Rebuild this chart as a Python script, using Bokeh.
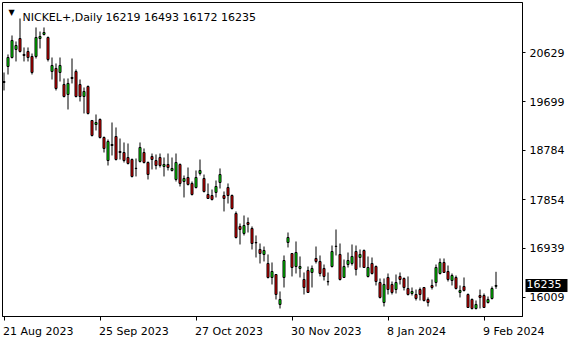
from bokeh.plotting import figure
from bokeh.models import Range1d, FixedTicker, Label, ColumnDataSource
from bokeh.core.properties import value
from bokeh.embed import file_html
from bokeh.resources import INLINE

# ---- data (daily OHLC, NICKEL+) ----
opens = [20082, 20365, 20535, 20686, 20893, 20592, 20648, 20554, 20554, 20893,
         20969, 20912, 20271, 20328, 20252, 20026, 19837, 20158, 20271, 20026,
         19799, 19988, 19347, 19271, 19366, 19026, 18592, 18894, 19045, 18762,
         18743, 18649, 18611, 18445, 18574, 18743, 18555, 18668, 18592, 18649,
         18479, 18517, 18404, 18234, 18517, 18196, 18272, 18159, 18083, 18347,
         18253, 17951, 17932, 17989, 18177, 17932, 18083, 17932, 17593, 17348,
         17216, 17423, 17310, 17046, 16914, 16820, 16650, 16386, 16442, 15877,
         16386, 17046, 16838, 16593, 16556, 16348, 16518, 16480, 16744, 16688,
         16556, 16310, 16593, 16970, 16820, 16386, 16631, 16650, 16876, 16763,
         16895, 16405, 16650, 16593, 16291, 15914, 16386, 16254, 16159, 16405,
         16367, 16178, 16084, 16065, 16159, 16197, 15971, 16235, 16291, 16461,
         16669, 16499, 16329, 16386, 16103, 16216, 16065, 15971, 15801, 16046,
         16046, 15914, 15990, 16219]
highs = [20252, 20592, 20950, 20837, 21270, 20724, 20724, 20610, 21101, 21025,
         21101, 20931, 20535, 20422, 20535, 20139, 20139, 20516, 20309, 20120,
         19969, 20007, 19347, 19460, 19385, 19045, 18988, 19309, 19215, 19007,
         18932, 18913, 18630, 18630, 18932, 18819, 18574, 18724, 18706, 18724,
         18649, 18724, 18649, 18724, 18536, 18309, 18460, 18196, 18404, 18611,
         18328, 18159, 18045, 18215, 18442, 18008, 18159, 17951, 17631, 17404,
         17555, 17517, 17348, 17178, 17027, 16970, 16820, 16669, 16450, 16122,
         16801, 17234, 16845, 17065, 16782, 16480, 16593, 16612, 16970, 16801,
         16631, 16480, 16989, 17291, 17027, 16725, 16857, 17008, 16989, 16914,
         16914, 16782, 16763, 16612, 16367, 16367, 16461, 16310, 16442, 16480,
         16386, 16405, 16197, 16159, 16197, 16203, 16009, 16348, 16631, 16744,
         16744, 16612, 16461, 16423, 16235, 16386, 16084, 15990, 15952, 16159,
         16084, 16027, 16216, 16493]
lows = [19913, 20214, 20516, 20460, 20629, 20460, 20460, 20214, 20516, 20705,
        20950, 20460, 20120, 19913, 20082, 19781, 19554, 20045, 19781, 19705,
        19479, 19460, 19045, 19158, 19007, 18743, 18498, 18687, 18592, 18611,
        18555, 18517, 18272, 18291, 18555, 18536, 18234, 18423, 18423, 18460,
        18291, 18404, 18385, 18196, 18102, 17895, 18121, 17932, 18064, 18309,
        17989, 17870, 17838, 17895, 18064, 17631, 17781, 17668, 17121, 17008,
        17178, 17234, 16914, 16763, 16650, 16688, 16367, 16254, 15971, 15801,
        16197, 16952, 16405, 16461, 16386, 16065, 16095, 16197, 16650, 16405,
        16329, 16235, 16574, 16801, 16329, 16380, 16574, 16612, 16423, 16574,
        16568, 16386, 16442, 16235, 15990, 15839, 16065, 16065, 16084, 16254,
        16141, 16046, 16046, 15952, 15952, 15933, 15839, 16159, 16216, 16442,
        16475, 16310, 16235, 16159, 16009, 16122, 15815, 15782, 15782, 15801,
        15815, 15895, 15971, 16172]
closes = [20063, 20535, 20856, 20761, 20648, 20573, 20535, 20252, 20912, 20931,
          21006, 20497, 20384, 19950, 20384, 19799, 20045, 20139, 19799, 19799,
          19894, 19479, 19064, 19309, 19026, 18819, 18951, 18875, 18611, 18743,
          18592, 18536, 18291, 18440, 18838, 18555, 18328, 18611, 18498, 18498,
          18517, 18460, 18442, 18555, 18159, 18253, 18140, 17951, 18272, 18404,
          18008, 17876, 17857, 18102, 18328, 17876, 17932, 17687, 17140, 17291,
          17366, 17385, 17027, 17040, 16838, 16895, 16386, 16499, 16065, 15971,
          16706, 17140, 16574, 16857, 16593, 16197, 16103, 16556, 16688, 16461,
          16405, 16305, 16876, 16975, 16348, 16593, 16706, 16782, 16537, 16820,
          16574, 16574, 16461, 16310, 16009, 16254, 16159, 16103, 16291, 16348,
          16197, 16065, 16122, 15990, 16065, 15952, 15914, 16197, 16574, 16669,
          16480, 16348, 16423, 16178, 16141, 16141, 15820, 15801, 15877, 16009,
          15820, 15971, 16178, 16235]

date_tick_pos = [0, 24, 48, 72, 96, 120]
date_tick_labels = ["21 Aug 2023", "25 Sep 2023", "27 Oct 2023",
                    "30 Nov 2023", "8 Jan 2024", "9 Feb 2024"]
price_ticks = [16009, 16939, 17854, 18784, 19699, 20629]
symbol_text = "NICKEL+,Daily"
last_ohlc_text = "16219 16493 16172 16235"
last_close = 16235

BULL = "#00ff00"
BEAR = "#ff0000"
FONT = "DejaVu Sans"

idx = list(range(len(opens)))
src = ColumnDataSource(dict(
    x=idx, o=opens, h=highs, l=lows, c=closes,
    top=[max(o, c) for o, c in zip(opens, closes)],
    bot=[min(o, c) for o, c in zip(opens, closes)],
    col=[BULL if c >= o else BEAR for o, c in zip(opens, closes)],
))

x_rng = Range1d(-0.375, 129.625)
y_rng = Range1d(15650, 21572)
p = figure(width=580, height=340, output_backend="svg", toolbar_location=None,
           x_range=x_rng, y_range=y_rng, y_axis_location="right",
           min_border_left=2, min_border_right=58, min_border_top=2, min_border_bottom=24)
p.background_fill_color = "white"
p.border_fill_color = "white"
p.outline_line_color = "black"
p.outline_line_width = 1
p.xgrid.visible = False
p.ygrid.visible = False

p.segment(x0="x", y0="l", x1="x", y1="h", source=src, line_color="black", line_width=1)
p.vbar(x="x", top="top", bottom="bot", width=0.5, source=src,
       fill_color="col", line_color="black", line_width=1)

# y axis (right)
ya = p.yaxis[0]
ya.ticker = FixedTicker(ticks=price_ticks)
ya.minor_tick_line_color = None
ya.major_tick_in = 0
ya.major_tick_out = 3
ya.major_label_standoff = 4
ya.axis_line_color = "black"
ya.major_tick_line_color = "black"
ya.major_label_text_font = FONT
ya.major_label_text_font_size = "11px"
ya.major_label_text_color = "black"

# x axis (tick marks; labels drawn left-aligned below as overlay text)
xa = p.xaxis[0]
xa.ticker = FixedTicker(ticks=date_tick_pos)
xa.major_label_overrides = {t: "" for t in date_tick_pos}
xa.minor_tick_line_color = None
xa.major_tick_in = 0
xa.major_tick_out = 4
xa.axis_line_color = "black"
xa.major_tick_line_color = "black"

date_src = ColumnDataSource(dict(x=date_tick_pos,
                                 y=[y_rng.start] * len(date_tick_pos),
                                 t=date_tick_labels))
p.text(x="x", y="y", text="t", source=date_src, level="overlay",
       x_offset=-1, y_offset=15, text_align="left", text_baseline="alphabetic",
       text_font=value(FONT), text_font_size="11px", text_color="black")

# header
p.add_layout(Label(x=9, y=304, x_units="screen", y_units="screen", text="\u25bc",
                   text_align="center", text_baseline="middle",
                   text_font=FONT, text_font_size="8px", text_color="black"))
p.add_layout(Label(x=20, y=299, x_units="screen", y_units="screen", text=symbol_text,
                   text_align="left", text_baseline="alphabetic",
                   text_font=FONT, text_font_size="11px", text_color="black"))
p.add_layout(Label(x=103, y=299, x_units="screen", y_units="screen", text=last_ohlc_text,
                   text_align="left", text_baseline="alphabetic",
                   text_font=FONT, text_font_size="11px", text_color="black"))

# current price tag
tag_src = ColumnDataSource(dict(x=[x_rng.end], y=[last_close], t=[str(last_close)]))
p.text(x="x", y="y", text="t", source=tag_src, level="overlay",
       x_offset=3, y_offset=0, text_align="left", text_baseline="middle",
       text_font=value(FONT), text_font_size="11px", text_color="white",
       background_fill_color="black", padding=[1, 6, 1, 4])

open("out.html", "w").write(file_html(p, INLINE))
